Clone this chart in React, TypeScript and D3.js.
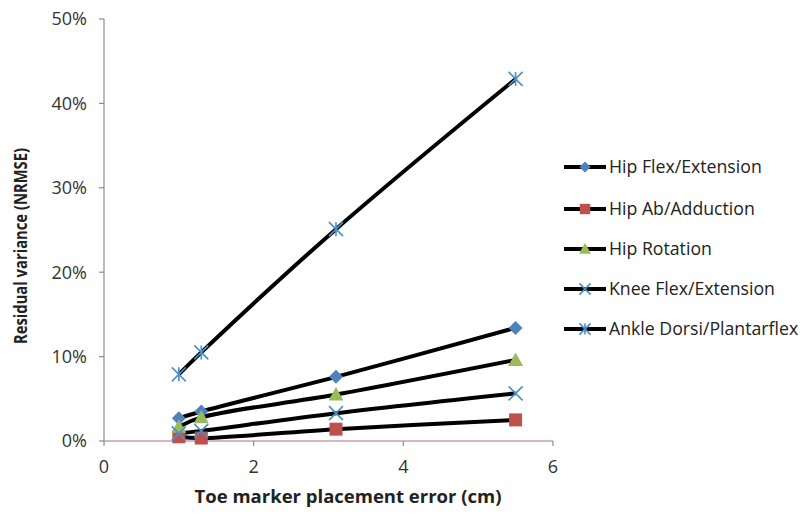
import React from "react";
import * as d3 from "d3";

const xValues = [1, 1.3, 3.1, 5.5];
const seriesNames = [
  "Hip Flex/Extension",
  "Hip Ab/Adduction",
  "Hip Rotation",
  "Knee Flex/Extension",
  "Ankle Dorsi/Plantarflex",
];
const hipFlex = [0.027, 0.035, 0.076, 0.134];
const hipAb = [0.005, 0.0035, 0.014, 0.025];
const hipRot = [0.017, 0.028, 0.055, 0.096];
const knee = [0.009, 0.012, 0.033, 0.0565];
const ankle = [0.079, 0.105, 0.251, 0.429];
const seriesValues = [hipFlex, hipAb, hipRot, knee, ankle];
const markerTypes = ["diamond", "square", "triangle", "x", "star"];
const markerColors = ["#4f81bd", "#c0504d", "#9bbb59", "#4a90c8", "#4a90c8"];
const xTicks = [0, 2, 4, 6];
const yTicks = [0, 0.1, 0.2, 0.3, 0.4, 0.5];

const W = 802;
const H = 516;
const M = { left: 104, right: 553, top: 19, bottom: 441 };
const FONT = "'Open Sans', sans-serif";

function Marker({ type, color, x, y, s = 1 }: any) {
  if (type === "diamond") {
    const r = 7 * s;
    return <path d={`M${x},${y - r}L${x + r},${y}L${x},${y + r}L${x - r},${y}Z`} fill={color} />;
  }
  if (type === "square") {
    const r = 6.5 * s;
    return <rect x={x - r} y={y - r} width={2 * r} height={2 * r} fill={color} />;
  }
  if (type === "triangle") {
    const r = 7.5 * s;
    return <path d={`M${x},${y - r}L${x + r},${y + r * 0.8}L${x - r},${y + r * 0.8}Z`} fill={color} />;
  }
  if (type === "x") {
    const r = 7 * s;
    return (
      <path d={`M${x - r},${y - r}L${x + r},${y + r}M${x - r},${y + r}L${x + r},${y - r}`} stroke={color} strokeWidth={1.6} />
    );
  }
  const r = 7 * s;
  return (
    <path
      d={`M${x - r},${y - r}L${x + r},${y + r}M${x - r},${y + r}L${x + r},${y - r}M${x},${y - r}L${x},${y + r}`}
      stroke={color}
      strokeWidth={1.6}
    />
  );
}

export default function App() {
  const x = d3.scaleLinear().domain([0, 6]).range([M.left, M.right]);
  const y = d3.scaleLinear().domain([0, 0.5]).range([M.bottom, M.top]);
  const line = d3
    .line<number>()
    .x((_, i) => x(xValues[i]))
    .y((d) => y(d))
    .curve(d3.curveCatmullRom.alpha(0.5));
  const pct = d3.format(".0%");
  const legendY = [167, 209, 249, 289, 329];

  return (
    <svg width={W} height={H} style={{ position: "absolute", left: 0, top: 0, background: "#fff" }} fontFamily={FONT}>
      {/* axes */}
      <line x1={M.left} x2={M.left} y1={M.top} y2={M.bottom} stroke="#8c8c8c" strokeWidth={1.2} />
      {yTicks.map((t) => (
        <g key={t}>
          <line x1={M.left - 5} x2={M.left} y1={y(t)} y2={y(t)} stroke="#8c8c8c" strokeWidth={1.2} />
          <text x={M.left - 17} y={y(t)} dy="0.35em" textAnchor="end" fontSize={18} fill="#333">
            {pct(t)}
          </text>
        </g>
      ))}
      <line x1={M.left} x2={M.right} y1={M.bottom} y2={M.bottom} stroke="#c4a2a2" strokeWidth={1.3} />
      {xTicks.map((t) => (
        <g key={t}>
          <line x1={x(t)} x2={x(t)} y1={M.bottom} y2={M.bottom + 5} stroke="#8c8c8c" strokeWidth={1.2} />
          <text x={x(t)} y={467} dy="0.35em" textAnchor="middle" fontSize={18} fill="#333">
            {t}
          </text>
        </g>
      ))}
      <text x={348} y={497} dy="0.35em" textAnchor="middle" fontSize={18.5} fontWeight="bold" fill="#222">
        Toe marker placement error (cm)
      </text>
      <text
        transform={`translate(21,246) rotate(-90)`}
        textAnchor="middle"
        dy="0.35em"
        fontSize={17.5}
        fontWeight="bold"
        fill="#222"
        textLength={196}
        lengthAdjust="spacingAndGlyphs"
      >
        Residual variance (NRMSE)
      </text>

      {/* series */}
      {seriesValues.map((vals, si) => (
        <path key={si} d={line(vals) || ""} fill="none" stroke="#000" strokeWidth={4} strokeLinejoin="round" />
      ))}
      {seriesValues.map((vals, si) =>
        vals.map((v, i) => (
          <Marker key={`${si}-${i}`} type={markerTypes[si]} color={markerColors[si]} x={x(xValues[i])} y={y(v)} />
        ))
      )}

      {/* legend */}
      {seriesNames.map((name, i) => (
        <g key={name}>
          <line x1={564} x2={606} y1={legendY[i]} y2={legendY[i]} stroke="#000" strokeWidth={4} />
          <Marker type={markerTypes[i]} color={markerColors[i]} x={585} y={legendY[i]} s={0.8} />
          <text x={609} y={legendY[i]} dy="0.35em" fontSize={17.7} fill="#222">
            {name}
          </text>
        </g>
      ))}
    </svg>
  );
}
